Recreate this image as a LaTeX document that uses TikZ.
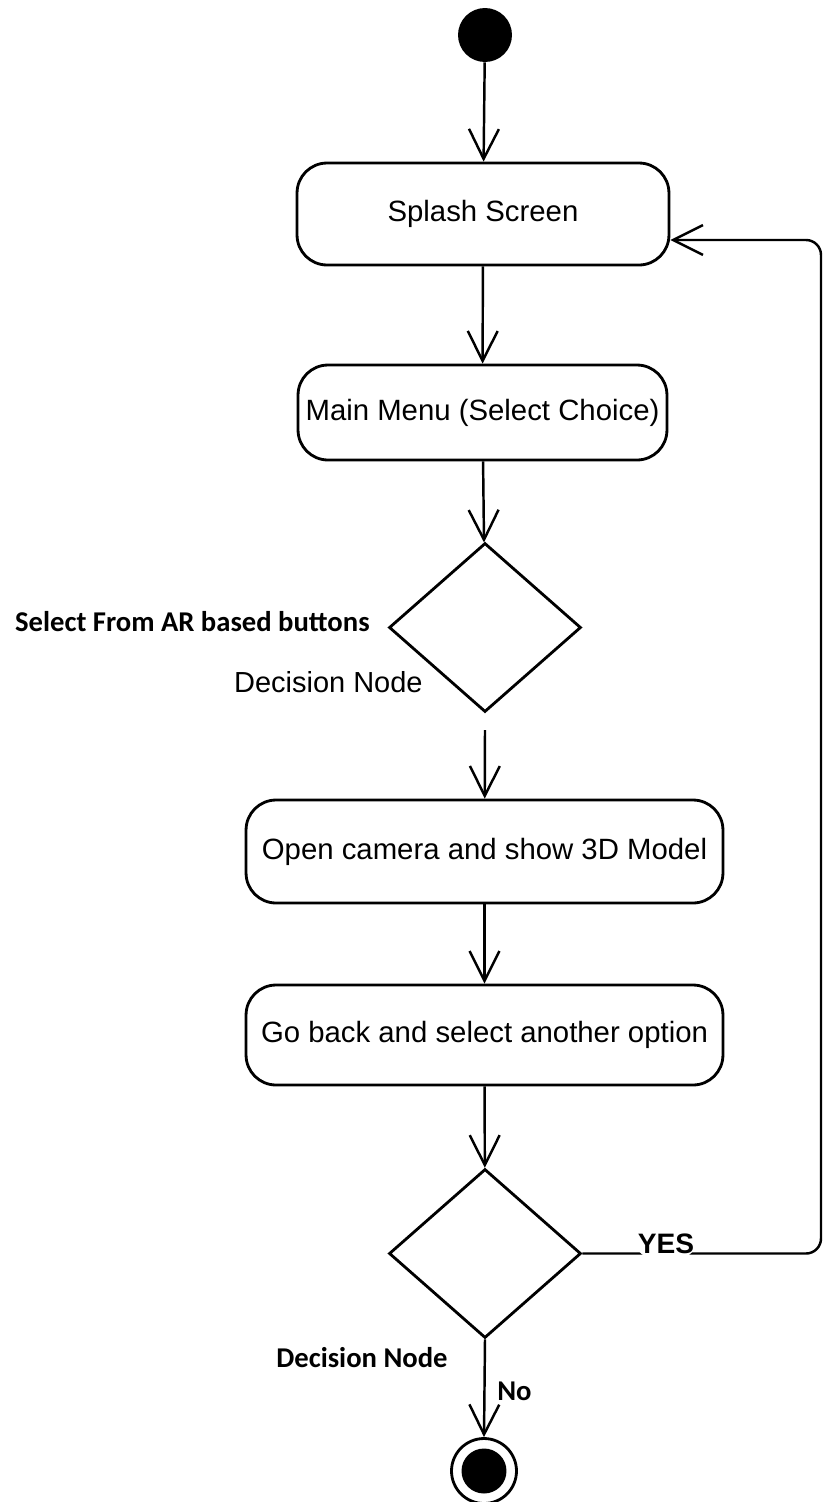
\documentclass[tikz,border=0pt]{standalone}
\usepackage{fontspec}
\setmainfont{Liberation Sans}
\newfontfamily\calibri{Carlito}
\usepackage{tikz}
\usetikzlibrary{shapes,arrows,positioning,calc,arrows.meta}

\begin{document}
\begin{tikzpicture}[x=0.02cm, y=-0.02cm,
        flow/.style={line width=1.4pt, -{Straight Barb[length=17pt, width=17pt, line width=1.4pt]}},
        activity/.style={draw, line width=1.6pt, rounded corners=0.6cm, inner sep=0pt,
            font=\fontsize{16.7}{19}\selectfont},
        decision/.style={draw, diamond, line width=1.6pt, inner sep=0pt, aspect=1.136,
            minimum width=3.84cm, minimum height=3.38cm},
        note/.style={font=\calibri\bfseries\fontsize{16.3}{19}\selectfont, inner sep=0pt}]
        \useasboundingbox (0,0) rectangle (824,1502);

        % Start
        \node[circle, fill=black, minimum size=1.08cm, inner sep=0pt] (start) at (485,35) {};

        % Activities
        \node[activity, minimum width=7.44cm, minimum height=2.04cm] (splash) at (483,214) {Splash Screen};
        \node[activity, minimum width=7.38cm, minimum height=1.9cm] (menu) at (482.5,412.5) {Main Menu (Select Choice)};

        % First decision
        \node[decision] (choice) at (485,627.5) {};
        \node[note, anchor=base east] (selectlbl) at (370,631) {Select From AR based buttons};
        \node[anchor=base east, inner sep=0pt, font=\fontsize{16.5}{19}\selectfont] (declbl) at (423,692) {Decision Node};
        \coordinate (afterchoice) at (485,730);

        \node[activity, minimum width=9.54cm, minimum height=2.06cm] (camera) at (484.5,851.5) {Open camera and show 3D Model};
        \node[activity, minimum width=9.54cm, minimum height=2cm] (goback) at (484.5,1035) {Go back and select another option};

        % Second decision
        \node[decision] (again) at (485,1253.5) {};
        \node[note, anchor=base west] (declbl2) at (276,1367) {Decision Node};
        \node[note, anchor=base west] (nolbl) at (497,1400) {No};

        % End
        \node[circle, draw, line width=1.6pt, minimum size=1.3cm, inner sep=0pt] (stop) at (484,1471) {};
        \node[circle, fill=black, minimum size=0.9cm, inner sep=0pt] at (stop) {};

        % Connectors
        \draw[flow] (start) -- (splash);
        \draw[flow] (splash) -- (menu);
        \draw[flow] (menu) -- (choice);
        \draw[flow] (afterchoice) -- (camera);
        \draw[flow] (camera) -- (goback);
        \draw[flow] (goback) -- (again);
        \draw[flow] (again.south) -- (stop.north);

        % Loop back
        \coordinate (yesturn) at (821,1253.5);
        \coordinate (backturn) at (821,240);
        \draw[flow, rounded corners=0.3cm] (again.east) -- node[pos=0.35, anchor=base, fill=white,
            inner xsep=1pt, inner ysep=2pt, font=\bfseries\fontsize{16}{19}\selectfont] (yeslbl) {YES}
            (yesturn) -- (backturn) -- (splash.east |- backturn);
\end{tikzpicture}
\end{document}
